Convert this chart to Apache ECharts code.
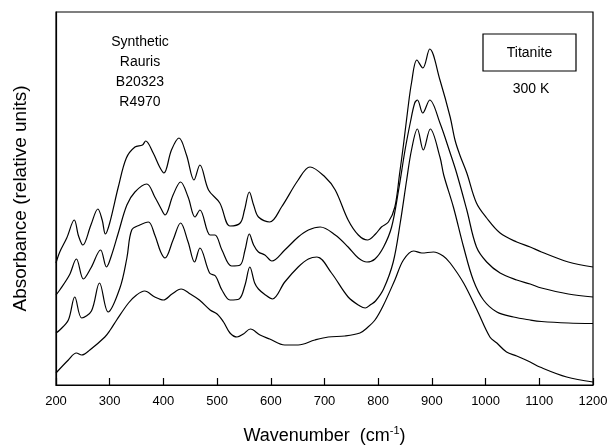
<!DOCTYPE html>
<html>
<head>
<meta charset="utf-8">
<script src="https://cdn.jsdelivr.net/npm/echarts@6/dist/echarts.min.js"></script>
<style>
html,body{margin:0;padding:0;background:#fff;}
#chart{width:611px;height:445px;}
</style>
</head>
<body>
<div id="chart"></div>
<script>
// Wavenumber (cm-1) and absorbance (relative units, vertically offset traces)
var curve1X = [200,207,220,234,242,250,265,278,286,292,300,316,331,347,361,367,381,393,401,415,429,443,457,468,484,505,524,543,551,560,568,577,598,620,651,673,701,720,744,763,780,795,806,819,831,840,847,855,862,872,883,896,915,934,943,952,965,983,1002,1027,1058,1083,1104,1154,1200];
var curve1Y = [122,133,147,165,149,140,160,176,165,151,162,198,227,238,240,244,232,218,212,235,247,230,205,220,195,182,159,162,175,193,180,168,163,178,205,218,208,195,165,150,145,151,158,163,178,212,240,275,302,325,317,336,305,268,245,230,212,182,167,152,143,138,133,123,118];

var curve2X = [200,207,225,238,251,265,283,294,303,316,332,347,369,384,395,403,418,432,446,459,468,487,496,509,527,543,552,560,568,577,589,602,626,651,670,692,720,744,763,779,794,810,825,838,850,860,868,873,883,896,915,934,946,965,983,1002,1027,1058,1083,1104,1154,1200];
var curve2Y = [90,95,110,126,106,117,135,118,129,152,180,193,201,188,177,170,190,203,188,168,175,150,150,135,119,120,135,151,140,133,130,124,135,148,155,158,150,138,127,123,126,138,158,195,235,263,282,285,272,285,262,232,212,175,138,123,112,105,101,97,91,88];

var curve3X = [200,207,223,235,248,266,281,297,319,332,341,356,372,384,395,403,418,432,446,458,468,486,497,509,524,541,552,561,570,577,590,603,626,651,670,686,713,744,766,776,785,795,810,828,841,853,862,873,884,897,915,922,940,959,977,996,1021,1052,1083,1104,1154,1200];
var curve3Y = [52,55,65,88,67,74,102,73,97,127,155,160,163,150,133,127,145,162,143,123,137,112,109,95,85,86,100,118,102,96,90,86,103,118,126,128,112,88,79,77,80,84,96,123,162,205,235,256,235,256,228,210,178,138,105,85,73,68,65,63.5,62,61.5];

var curve4X = [200,223,238,248,263,291,301,313,335,350,365,384,400,416,433,450,467,487,500,512,524,537,549,562,580,598,626,651,682,707,738,766,779,794,809,831,847,866,881,903,921,934,959,984,1008,1021,1039,1058,1083,1101,1151,1200];
var curve4Y = [12,25,32,30,35,48,55,65,82,90,94,88,85,91,96,91,85,75,71,63,52,48,51,56,50,46,40,40,45,48,49,52,57,65,79,105,125,134,132,133,129,122,102,75,48,42,33,29,23,18,8,3];

var xTicks = {min: 200, max: 1200, step: 100};
var sampleLines = ['Synthetic', 'Rauris', 'B20323', 'R4970'];
var mineralLabel = 'Titanite';
var tempLabel = '300 K';

function pairs(xs, ys) {
  var out = [];
  for (var i = 0; i < xs.length; i++) out.push([xs[i], ys[i]]);
  return out;
}

var FONT = '"Liberation Sans", Arial, Helvetica, sans-serif';

function lineSeries(xs, ys) {
  return {
    type: 'line',
    data: pairs(xs, ys),
    smooth: 0.35,
    showSymbol: false,
    symbol: 'none',
    silent: true,
    lineStyle: {color: '#000', width: 1.2},
    animation: false
  };
}

var chart = echarts.init(document.getElementById('chart'), null, {renderer: 'canvas'});

var graphics = [];
for (var i = 0; i < sampleLines.length; i++) {
  graphics.push({
    type: 'text', x: 140, y: 42 + i * 20,
    style: {text: sampleLines[i], font: '14px ' + FONT, fill: '#000', textAlign: 'center', textVerticalAlign: 'middle'}
  });
}
graphics.push({
  type: 'rect', shape: {x: 483, y: 34, width: 93, height: 37},
  style: {fill: 'none', stroke: '#000', lineWidth: 1.2}
});
graphics.push({
  type: 'text', x: 529.5, y: 53,
  style: {text: mineralLabel, font: '14px ' + FONT, fill: '#000', textAlign: 'center', textVerticalAlign: 'middle'}
});
graphics.push({
  type: 'text', x: 531, y: 89,
  style: {text: tempLabel, font: '14px ' + FONT, fill: '#000', textAlign: 'center', textVerticalAlign: 'middle'}
});

chart.setOption({
  animation: false,
  backgroundColor: '#fff',
  grid: {
    left: 56, right: 18, top: 12, bottom: 60,
    show: true, borderColor: '#000', borderWidth: 1.2,
    containLabel: false, outerBoundsMode: 'none'
  },
  xAxis: {
    type: 'value',
    min: xTicks.min, max: xTicks.max, interval: xTicks.step,
    name: 'Wavenumber  (cm{sup|-1})',
    nameLocation: 'middle',
    nameGap: 40,
    nameTextStyle: {
      fontFamily: FONT, fontSize: 18, color: '#000', lineHeight: 22,
      rich: {sup: {fontFamily: FONT, fontSize: 11, color: '#000', verticalAlign: 'top', lineHeight: 12}}
    },
    axisLine: {show: true, onZero: false, lineStyle: {color: '#000', width: 1.2}},
    axisTick: {show: true, inside: true, length: 7, lineStyle: {color: '#000', width: 1.2}},
    axisLabel: {margin: 10, fontFamily: FONT, fontSize: 13, color: '#000', formatter: function (v) { return String(v); }},
    splitLine: {show: false}
  },
  yAxis: {
    type: 'value', min: 0, max: 373,
    name: 'Absorbance (relative units)',
    nameLocation: 'middle',
    nameGap: 26,
    nameTextStyle: {fontFamily: FONT, fontSize: 19, color: '#000'},
    axisLine: {show: true, lineStyle: {color: '#000', width: 1.2}},
    axisTick: {show: false},
    axisLabel: {show: false},
    splitLine: {show: false}
  },
  series: [
    lineSeries(curve1X, curve1Y),
    lineSeries(curve2X, curve2Y),
    lineSeries(curve3X, curve3Y),
    lineSeries(curve4X, curve4Y)
  ],
  graphic: graphics
});
</script>
</body>
</html>
